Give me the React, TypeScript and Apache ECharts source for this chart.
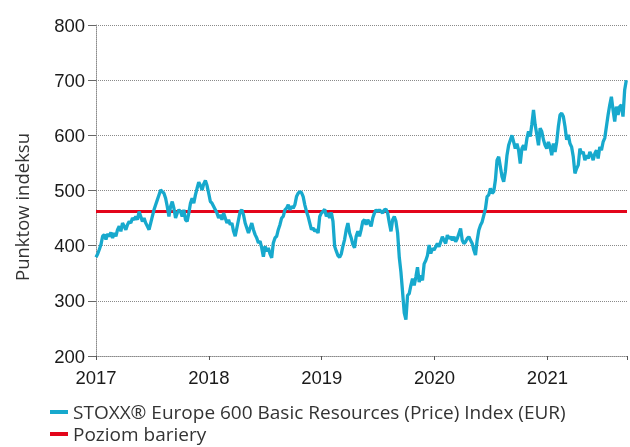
import React, { useEffect, useRef } from "react";
import * as echarts from "echarts";

const START_YEAR = 2017;
const END_YEAR = 2021.705;
const STEP_YEARS = 0.014684; // sampling step of the series (~5.4 days)
const BARRIER = 462;
const yearTicks = [2017, 2018, 2019, 2020, 2021];
const Y_MIN = 200;
const Y_MAX = 800;
const Y_STEP = 100;
const seriesName = "STOXX® Europe 600 Basic Resources (Price) Index (EUR)";
const barrierName = "Poziom bariery";
const yAxisTitle = "Punktow indeksu";

const valuesPart1 = [
  379, 385, 393, 402, 417, 420, 411, 421, 417, 424, 414, 423, 417, 429, 435, 426, 441, 435, 429, 438,
  444, 441, 450, 447, 453, 447, 462, 453, 444, 450, 441, 435, 429, 441, 453, 465, 474, 483, 492, 501,
  498, 495, 486, 471, 453, 471, 480, 468, 450, 459, 465, 462, 453, 465, 447, 444, 459, 477, 486, 477,
  492, 504, 515, 509, 501, 512, 518,
];
const valuesPart2 = [
  509, 495, 480, 477, 471, 465, 459, 450, 456, 447, 459, 450, 441, 447, 438, 441, 426, 417, 432, 447,
  462, 465, 456, 441, 432, 423, 432, 441, 429, 420, 414, 405, 408, 396, 380, 399, 390, 396, 385, 378,
  405, 414, 417, 429, 438, 450, 453, 465, 468, 474, 465, 471, 468, 474, 489, 495, 498, 496, 489, 474,
  462, 453, 441, 429, 432, 426, 429, 423,
];
const valuesPart3 = [
  453, 459, 462, 466, 453, 459, 450, 460, 444, 399, 390, 382, 379, 385, 399, 411, 429, 441, 423, 414,
  402, 396, 417, 426, 417, 429, 444, 447, 438, 447, 441, 435, 450, 459, 465, 462, 465, 462, 459, 465,
  466, 459, 441, 426, 447, 453, 444, 423, 379, 352, 316, 278, 266, 310, 313, 328, 340, 328, 343, 361,
  334, 346, 337, 367, 373, 382,
];
const valuesPart4 = [
  401, 386, 395, 392, 398, 404, 398, 407, 416, 410, 404, 419, 413, 416, 410, 416, 407, 413, 422, 431,
  410, 404, 407, 413, 416, 410, 404, 392, 383, 410, 428, 437, 443, 455, 467, 489, 492, 504, 495, 498,
  519, 555, 561, 543, 525, 516, 534, 564, 582, 591, 600, 588, 576, 585, 573, 549, 576, 582, 573, 594,
];
const valuesPart5 = [
  607, 598, 620, 646, 619, 601, 582, 613, 607, 592, 582, 576, 588, 579, 564, 585, 570, 588, 616, 637,
  640, 634, 616, 592, 601, 585, 579, 561, 531, 540, 546, 576, 567, 570, 555, 564, 558, 570, 564, 555,
  567, 573, 558, 579, 573, 588, 595, 616, 637, 655, 670, 646, 625, 652, 637, 652, 655, 634, 682, 700,
];

const CYAN = "#17a9cd";
const RED = "#e3051b";

export default function App() {
  const ref = useRef<HTMLDivElement>(null);
  useEffect(() => {
    const chart = echarts.init(ref.current!, null, { renderer: "svg" });
    const values = [...valuesPart1, ...valuesPart2, ...valuesPart3, ...valuesPart4, ...valuesPart5];
    const data = values.map((v, i) => [START_YEAR + i * STEP_YEARS, v]);
    const dotted = { color: "#8a8a8a", type: "dotted" as const, width: 1 };
    chart.setOption({
      animation: false,
      grid: { left: 96, right: 0, top: 25, bottom: 91 },
      legend: {
        orient: "vertical",
        left: 50,
        top: 402,
        padding: 0,
        itemGap: 2,
        itemWidth: 18,
        itemHeight: 4,
        icon: "rect",
        textStyle: { fontSize: 19, lineHeight: 20, fontFamily: "Open Sans", color: "#333333" },
        data: [seriesName, barrierName],
      },
      xAxis: {
        type: "value",
        min: START_YEAR,
        max: END_YEAR,
        interval: 1,
        axisLine: { show: true, lineStyle: dotted },
        axisTick: { show: true, length: 4, lineStyle: { color: "#555555" } },
        axisLabel: {
          fontSize: 18.5,
          color: "#1a1a1a",
          fontFamily: "Liberation Sans",
          margin: 12,
          formatter: (v: number) =>
            yearTicks.includes(Math.round(v)) && Math.abs(v - Math.round(v)) < 1e-6 ? String(Math.round(v)) : "",
        },
        splitLine: { show: false },
      },
      yAxis: {
        type: "value",
        min: Y_MIN,
        max: Y_MAX,
        interval: Y_STEP,
        axisLine: { show: true, lineStyle: dotted },
        axisTick: { show: true, length: 8, lineStyle: { color: "#666666" } },
        axisLabel: { fontSize: 18.5, color: "#1a1a1a", fontFamily: "Liberation Sans", margin: 11 },
        splitLine: { show: true, lineStyle: dotted },
      },
      series: [
        {
          name: seriesName,
          type: "line",
          data,
          symbol: "none",
          showSymbol: false,
          lineStyle: { color: CYAN, width: 3.3 },
          itemStyle: { color: CYAN },
          z: 4,
        },
        {
          name: barrierName,
          type: "line",
          data: [
            [START_YEAR, BARRIER],
            [END_YEAR, BARRIER],
          ],
          symbol: "none",
          showSymbol: false,
          lineStyle: { color: RED, width: 3 },
          itemStyle: { color: RED },
          z: 3,
        },
      ],
      graphic: [
        {
          type: "text",
          x: 21,
          y: 207,
          rotation: Math.PI / 2,
          style: {
            text: yAxisTitle,
            fontSize: 18.5,
            fontFamily: "Open Sans",
            fill: "#333333",
            textAlign: "center",
            textVerticalAlign: "middle",
          },
        },
      ],
    });
    return () => chart.dispose();
  }, []);
  return <div ref={ref} style={{ position: "fixed", left: 0, top: 0, width: 630, height: 447 }} />;
}
